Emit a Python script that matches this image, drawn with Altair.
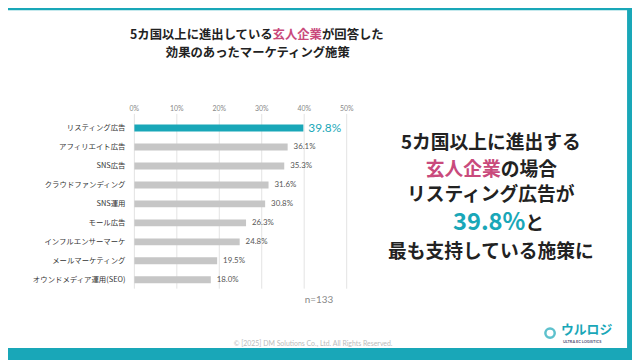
import altair as alt
import pandas as pd

categories = ["リスティング広告", "アフィリエイト広告", "SNS広告", "クラウドファンディング",
              "SNS運用", "モール広告", "インフルエンサーマーケ", "メールマーケティング",
              "オウンドメディア運用(SEO)"]
values = [39.8, 36.1, 35.3, 31.6, 30.8, 26.3, 24.8, 19.5, 18.0]
ticks = [0, 10, 20, 30, 40, 50]
tick_labels = ["0%", "10%", "20%", "30%", "40%", "50%"]

TEAL = "#19a7b8"
PINK = "#c94a7c"
DARK = "#222222"
JP = "Noto Sans CJK JP"

df = pd.DataFrame({"cat": categories, "v": values,
                   "lab": [f"{v:.1f}%" for v in values],
                   "hl": ["yes"] + ["no"] * (len(values) - 1)})
tdf = pd.DataFrame({"v": ticks, "lab": tick_labels})

xs = alt.Scale(domain=[0, 50], range=[128, 343], nice=False, zero=True)
ys = alt.Scale(domain=categories, range=[109.7, 282.6], paddingInner=0, paddingOuter=0)
X = alt.X("v:Q", scale=xs, axis=None)
Y = alt.Y("cat:N", scale=ys, axis=None, sort=categories)

one = pd.DataFrame({"a": [0]})

bg = alt.Chart(one).mark_rect(color="white").encode(
    x=alt.value(0), x2=alt.value(627), y=alt.value(0), y2=alt.value(342))

grid = alt.Chart(tdf).mark_rule(color="#e3e3e3", strokeWidth=1).encode(
    x=X, y=alt.value(105), y2=alt.value(282))

tick_text = alt.Chart(tdf).mark_text(fontSize=7, color="#888", font="Lato",
                                     baseline="middle").encode(
    x=X, y=alt.value(100), text="lab:N")

bars = alt.Chart(df).mark_bar(size=7).encode(
    x=X, y=Y,
    color=alt.Color("hl:N", scale=alt.Scale(domain=["yes", "no"], range=[TEAL, "#c6c6c6"]),
                    legend=None))

hl_lab = alt.Chart(df[df.hl == "yes"]).mark_text(
    align="left", baseline="middle", dx=5, fontSize=12, color=TEAL, font="Lato").encode(
    x=X, y=Y, text="lab:N")

other_lab = alt.Chart(df[df.hl == "no"]).mark_text(
    align="left", baseline="middle", dx=6, fontSize=8, color="#555", font="Lato").encode(
    x=X, y=Y, text="lab:N")

cat_lab = alt.Chart(df).mark_text(
    align="right", baseline="middle", fontSize=7.5, color="#333", font=JP).encode(
    x=alt.value(119), y=Y, text="cat:N")


def txt(s, x, y, size, color=DARK, align="center", weight="bold", font=JP):
    return alt.Chart(pd.DataFrame({"t": [s]})).mark_text(
        align=align, baseline="middle", fontSize=size, color=color,
        fontWeight=weight, font=font).encode(
        x=alt.value(x), y=alt.value(y), text="t:N")


texts = [
    txt("5カ国以上に進出している", 268, 25, 12.5, align="right"),
    txt("玄人企業", 268, 25, 12.5, color=PINK, align="left"),
    txt("が回答した", 318, 25, 12.5, align="left"),
    txt("効果のあったマーケティング施策", 253, 43, 12.5),
    txt("5カ国以上に進出する", 489, 135, 19),
    txt("玄人企業", 499, 162, 19, color=PINK, align="right"),
    txt("の場合", 499, 162, 19, align="left"),
    txt("リスティング広告が", 489, 187, 19),
    txt("39.8%", 524, 216, 24, color=TEAL, align="right"),
    txt("と", 524, 217, 19, align="left"),
    txt("最も支持している施策に", 489, 245, 19),
    txt("n=133", 315, 294, 10, color="#888", weight="normal", font="Lato"),
    txt("© [2025] DM Solutions Co., Ltd. All Rights Reserved.", 309, 338, 7,
        color="#bbbbbb", weight="normal", font="Lato"),
    txt("ウルロジ", 560, 324, 13, color=TEAL, align="left"),
    txt("ULTRA EC LOGISTICS", 562, 336, 4, color="#557", align="left", font="Lato"),
]

logo = alt.Chart(one).mark_point(shape="circle", filled=False, color=TEAL,
                                 strokeWidth=2.5, size=90).encode(
    x=alt.value(549), y=alt.value(327))

chart = alt.layer(bg, grid, tick_text, bars, hl_lab, other_lab, cat_lab, logo, *texts).properties(
    width=632, height=352,
    autosize=alt.AutoSizeParams(type="none"),
    padding=0,
    background=TEAL,
).configure_view(stroke=None)

chart.save("out.html", embed_options={"renderer": "svg", "actions": False})
